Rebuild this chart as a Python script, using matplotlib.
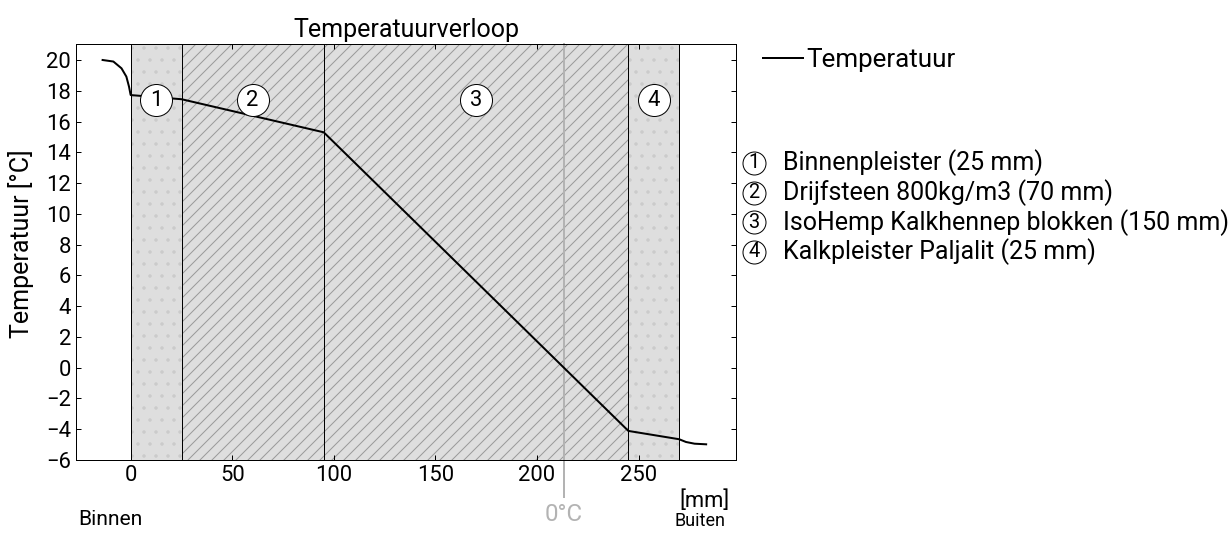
import numpy as np
import matplotlib
matplotlib.use('Agg')
import matplotlib.pyplot as plt
from matplotlib.lines import Line2D

plt.rcParams['font.family'] = ['Roboto', 'DejaVu Sans']

# Laaggrenzen (mm) en namen
grenzen = [0, 25, 95, 245, 270]
lagen = ['Binnenpleister (25 mm)', 'Drijfsteen 800kg/m3 (70 mm)',
         'IsoHemp Kalkhennep blokken (150 mm)', 'Kalkpleister Paljalit (25 mm)']
lagen_hatch = ['.', '//', '//', '.']

# Temperatuurverloop
positie = [-13.9, -8.6, -4.6, -2.2, -0.9, -0.1, 0, 25, 95, 245, 270, 273.4, 277.6, 283.3]
temperatuur = [20.0, 19.9, 19.46, 18.92, 18.27, 17.73, 17.72, 17.45, 15.3, -4.11, -4.65,
               -4.83, -4.94, -4.98]

xticks = [0, 50, 100, 150, 200, 250]
yticks = list(range(-6, 21, 2))


def main():
    fig = plt.figure(figsize=(1231 / 72, 535 / 72), dpi=72)
    ax = fig.add_axes([76 / 1231, 1 - 460 / 535, 660 / 1231, 416 / 535])

    # lagen
    for i in range(len(lagen)):
        hc = '#cbcbcb' if lagen_hatch[i] == '.' else '#9a9a9a'
        ax.axvspan(grenzen[i], grenzen[i + 1], facecolor='#dedede', edgecolor=hc,
                   hatch=lagen_hatch[i], linewidth=0, zorder=0)
    for g in grenzen:
        ax.axvline(g, color='black', lw=1, zorder=1)

    # 0 graden lijn
    nul = np.interp(0, temperatuur[::-1], positie[::-1])
    ax.plot([nul, nul], [-0.088, 1], transform=ax.get_xaxis_transform(),
            color='#b3b3b3', lw=2, clip_on=False, zorder=2)
    ax.text(nul, -0.131, '0°C', transform=ax.get_xaxis_transform(), ha='center',
            va='center', fontsize=24, color='#b3b3b3')

    ax.plot(positie, temperatuur, color='black', lw=2, zorder=3)

    # nummers in de lagen
    for i in range(len(lagen)):
        xm = (grenzen[i] + grenzen[i + 1]) / 2
        ax.plot(xm, 17.4, 'o', ms=32, mfc='white', mec='black', mew=1, zorder=5)
        ax.text(xm, 17.4, str(i + 1), ha='center', va='center', fontsize=22, zorder=6)

    ax.set_xlim(-27, 298)
    ax.set_ylim(-6, 21.04)
    ax.set_xticks(xticks)
    ax.set_yticks(yticks)
    ax.tick_params(direction='in', top=True, right=True, length=5, width=1,
                   labelsize=22, pad=5)
    for s in ax.spines.values():
        s.set_linewidth(1)

    ax.set_title('Temperatuurverloop', fontsize=25, pad=7)
    ax.set_ylabel('Temperatuur [°C]', fontsize=25)
    ax.yaxis.set_label_coords(-0.064, 0.52)

    ax.text(0.99, -0.1, '[mm]', transform=ax.transAxes, ha='right', va='center', fontsize=22)
    ax.text(0.945, -0.146, 'Buiten', transform=ax.transAxes, ha='center', va='center', fontsize=18)
    ax.text(0.052, -0.144, 'Binnen', transform=ax.transAxes, ha='center', va='center', fontsize=21)

    # legenda
    ax.legend(handles=[Line2D([], [], color='black', lw=2)], labels=['Temperatuur'],
              loc='center left', bbox_to_anchor=(1.041, 0.9615), frameon=False,
              fontsize=26, borderpad=0, borderaxespad=0, handlelength=1.54,
              handletextpad=0.12)
    for i, naam in enumerate(lagen):
        y = 0.714 - i * 0.0713
        ax.plot(1.027, y, 'o', ms=23, mfc='white', mec='black', mew=1,
                transform=ax.transAxes, clip_on=False)
        ax.text(1.027, y, str(i + 1), transform=ax.transAxes, ha='center', va='center',
                fontsize=20)
        ax.text(1.071, y, naam, transform=ax.transAxes, ha='left', va='center',
                fontsize=25)

    fig.savefig('out.png', dpi=72)
    plt.close(fig)


if __name__ == "__main__":
    main()
